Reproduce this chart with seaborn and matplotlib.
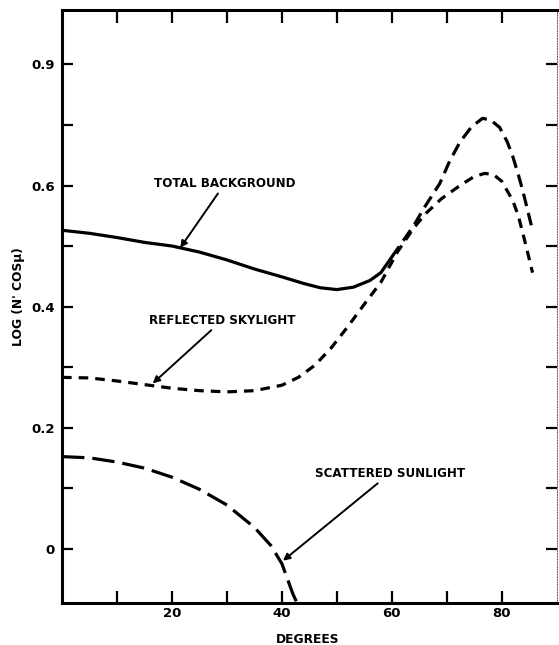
import matplotlib
matplotlib.use('Agg')
import matplotlib.pyplot as plt
import seaborn as sns
import pandas as pd

## 판독한 곡선 값 (x: 각도, y: log 값)
total_solid_deg = [0, 5, 10, 15, 20, 25, 30, 35, 40, 44, 47, 50, 53, 56, 58, 60]
total_solid_val = [0.526, 0.521, 0.514, 0.506, 0.500, 0.490, 0.477, 0.462, 0.449,
                   0.438, 0.431, 0.428, 0.432, 0.443, 0.456, 0.482]

total_dash_deg = [60, 62, 64, 66, 68.7, 70.5, 72.4, 74.5, 76.5, 78, 79.6, 81, 82, 83, 83.8, 85.6]
total_dash_val = [0.482, 0.508, 0.534, 0.565, 0.603, 0.640, 0.672, 0.697, 0.711,
                  0.708, 0.696, 0.672, 0.648, 0.618, 0.592, 0.526]

reflected_deg = [0, 5, 10, 15, 20, 25, 30, 35, 40, 43, 46, 49, 52, 55, 58, 61, 64,
                 66.2, 69, 72.4, 75, 76.9, 78.5, 80, 82, 83, 84, 85.6]
reflected_val = [0.283, 0.282, 0.277, 0.271, 0.265, 0.261, 0.259, 0.261, 0.270, 0.283,
                 0.303, 0.332, 0.367, 0.404, 0.440, 0.490, 0.530, 0.554, 0.578, 0.600,
                 0.615, 0.620, 0.618, 0.607, 0.575, 0.550, 0.515, 0.456]

scattered_deg = [0, 5, 10, 15, 20, 25, 30, 35, 38, 40, 42, 43]
scattered_val = [0.152, 0.150, 0.143, 0.133, 0.118, 0.098, 0.072, 0.035, 0.005,
                 -0.025, -0.075, -0.095]

x_ticks = [10, 20, 30, 40, 50, 60, 70, 80]
x_tick_labels = ['', '20', '', '40', '', '60', '', '80']
y_ticks = [0, 0.1, 0.2, 0.3, 0.4, 0.5, 0.6, 0.7, 0.8]
y_tick_labels = ['0', '', '0.2', '', '0.4', '', '0.6', '', '0.9']

sns.set_style('ticks')
plt.rcParams['font.family'] = ['DejaVu Sans']
plt.rcParams['text.color'] = 'black'
plt.rcParams['axes.labelcolor'] = 'black'
plt.rcParams['xtick.color'] = 'black'
plt.rcParams['ytick.color'] = 'black'

fig = plt.figure(figsize=(5.59, 6.45), dpi=100)
ax = fig.add_axes([0.111, 0.065, 0.885, 0.9195])

lw = 2.3
## 총 배경 (실선 + 파선)
sns.lineplot(x=total_solid_deg, y=total_solid_val, ax=ax, color='black', lw=lw)
sns.lineplot(x=total_dash_deg, y=total_dash_val, ax=ax, color='black', lw=lw,
             linestyle=(0, (4, 2.2)))
## 반사된 하늘빛
sns.lineplot(x=reflected_deg, y=reflected_val, ax=ax, color='black', lw=lw,
             linestyle=(0, (3, 2.2)))
## 산란된 햇빛
sns.lineplot(x=scattered_deg, y=scattered_val, ax=ax, color='black', lw=lw,
             linestyle=(0, (7, 2.5)))

ax.set_xlim(0, 90)
ax.set_ylim(-0.09, 0.89)

ax.set_xticks(x_ticks)
ax.set_xticklabels(x_tick_labels, fontsize=9.5, fontweight='bold')
ax.set_yticks(y_ticks)
ax.set_yticklabels(y_tick_labels, fontsize=9.5, fontweight='bold')
ax.tick_params(axis='x', direction='in', length=9, width=1.6, top=True, pad=3)
ax.tick_params(axis='y', direction='in', length=8, width=1.6, right=True, pad=5)

for side in ['left', 'bottom', 'top']:
    ax.spines[side].set_linewidth(2.2)
    ax.spines[side].set_color('black')
ax.spines['right'].set_linewidth(0.7)
ax.spines['right'].set_linestyle(':')
ax.spines['right'].set_color('#555555')

ax.set_xlabel('DEGREES', fontsize=8.8, fontweight='bold')
ax.xaxis.set_label_coords(0.497, -0.051)
ax.set_ylabel("LOG (N' COS\u03bc)", fontsize=8.8, fontweight='bold')
ax.yaxis.set_label_coords(-0.075, 0.516)

arrow = dict(arrowstyle='-|>', color='black', lw=1.4, mutation_scale=10, shrinkA=0, shrinkB=0)
ax.annotate('TOTAL BACKGROUND', xy=(21.5, 0.497), xytext=(29.6, 0.603),
            fontsize=8.6, fontweight='bold', ha='center', va='center', arrowprops=arrow)
ax.annotate('REFLECTED SKYLIGHT', xy=(16.5, 0.273), xytext=(29.1, 0.377),
            fontsize=8.6, fontweight='bold', ha='center', va='center', arrowprops=arrow)
ax.annotate('SCATTERED SUNLIGHT', xy=(40.2, -0.02), xytext=(59.6, 0.124),
            fontsize=8.6, fontweight='bold', ha='center', va='center', arrowprops=arrow)

fig.savefig('out.png', dpi=100)
